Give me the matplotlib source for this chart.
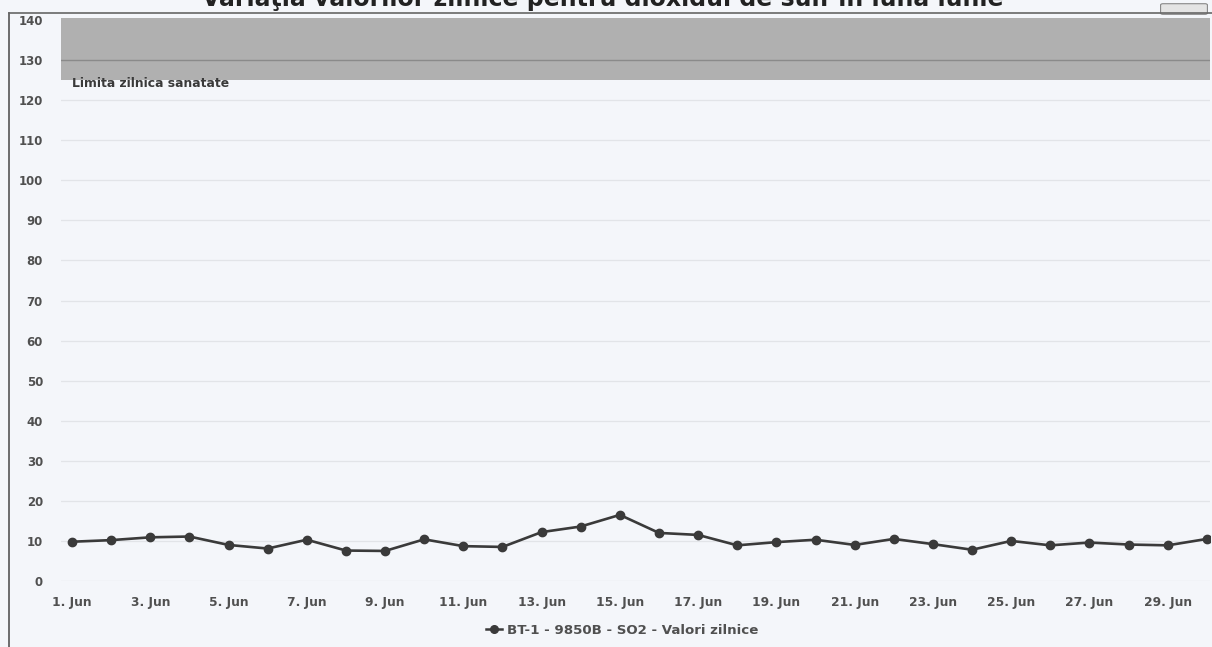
import matplotlib
matplotlib.use("Agg")
import matplotlib.pyplot as plt
from matplotlib.patches import FancyBboxPatch
from matplotlib.lines import Line2D

# ---- data ----
days = list(range(1, 31))
so2_values = [9.8, 10.2, 10.9, 11.1, 9.0, 8.1, 10.3, 7.6, 7.5, 10.4,
              8.7, 8.5, 12.2, 13.6, 16.5, 12.0, 11.5, 8.9, 9.7, 10.3,
              9.0, 10.5, 9.2, 7.8, 10.0, 8.9, 9.6, 9.1, 8.9, 10.5]
tick_days = list(range(1, 31, 2))
tick_labels = [f"{d}. Jun" for d in tick_days]
y_ticks = list(range(0, 141, 10))
band_low, band_high = 125, 140.5
band_label = "Limita zilnica sanatate"
series_name = "BT-1 - 9850B - SO2 - Valori zilnice"
title = "Variaţia valorilor zilnice pentru dioxidul de sulf în luna iunie"

plt.rcParams['font.family'] = ['DejaVu Sans']

W, H = 1212, 647
bg = '#f4f6fa'
txt = '#505050'
fig = plt.figure(figsize=(W / 100, H / 100), dpi=100, facecolor=bg)

def fx(px):
    return px / W

def fy(py):
    return 1 - py / H

ax = fig.add_axes([fx(61), fy(581), fx(1210) - fx(61), fy(18) - fy(581)])
ax.set_facecolor(bg)
for s in ax.spines.values():
    s.set_visible(False)

ax.set_xlim(0.719, 30.08)
ax.set_ylim(0, 140.5)

# grid
ax.set_yticks(y_ticks)
ax.grid(axis='y', color='#e2e4e8', lw=0.9, zorder=1)
ax.set_axisbelow(True)

# plot band
ax.axhspan(band_low, band_high, color='#b0b0b0', zorder=1.5, lw=0)
ax.axhline(130, color='#8a8a8a', lw=1.0, zorder=2)
ax.text(1.0, 124.2, band_label, fontsize=8.9, fontweight='bold', color='#3a3a3a',
        va='center', ha='left', zorder=3)

ax.plot(days, so2_values, color='#3a3a3a', lw=1.9, marker='o', markersize=6,
        markerfacecolor='#3a3a3a', markeredgecolor='#3a3a3a', zorder=4,
        solid_joinstyle='round')

ax.set_xticks(tick_days)
ax.set_xticklabels(tick_labels)
ax.tick_params(axis='x', length=0, pad=11, labelsize=8.8, labelcolor=txt)
ax.tick_params(axis='y', length=0, pad=13, labelsize=8.5, labelcolor=txt)
for lab in ax.get_xticklabels() + ax.get_yticklabels():
    lab.set_fontweight('bold')

# frame lines (left and top)
fig.add_artist(Line2D([fx(9), fx(9)], [fy(13), 0], color='#555555', lw=1.2))
fig.add_artist(Line2D([fx(9), 1], [fy(13), fy(13)], color='#666666', lw=1.2))

# export button
fig.add_artist(FancyBboxPatch((fx(1163), fy(13)), fx(42), fy(5) - fy(13),
                              boxstyle='round,pad=0.002', fc='#e4e4e4',
                              ec='#888888', lw=0.8))

# title (cropped at top as in the reference)
fig.text(0.497, fy(6), title, ha='center', va='baseline', fontsize=17,
         fontweight='bold', color='#222222')

# legend
leg_handle = Line2D([], [], color='#3a3a3a', lw=1.8, marker='o', markersize=5.5)
fig.legend([leg_handle], [series_name], loc='center', bbox_to_anchor=(fx(622), fy(630)),
           frameon=False, handlelength=1.2, handletextpad=0.4,
           labelcolor=txt, prop={'weight': 'bold', 'size': 9.6})

fig.savefig('out.png', dpi=100, facecolor=bg)
